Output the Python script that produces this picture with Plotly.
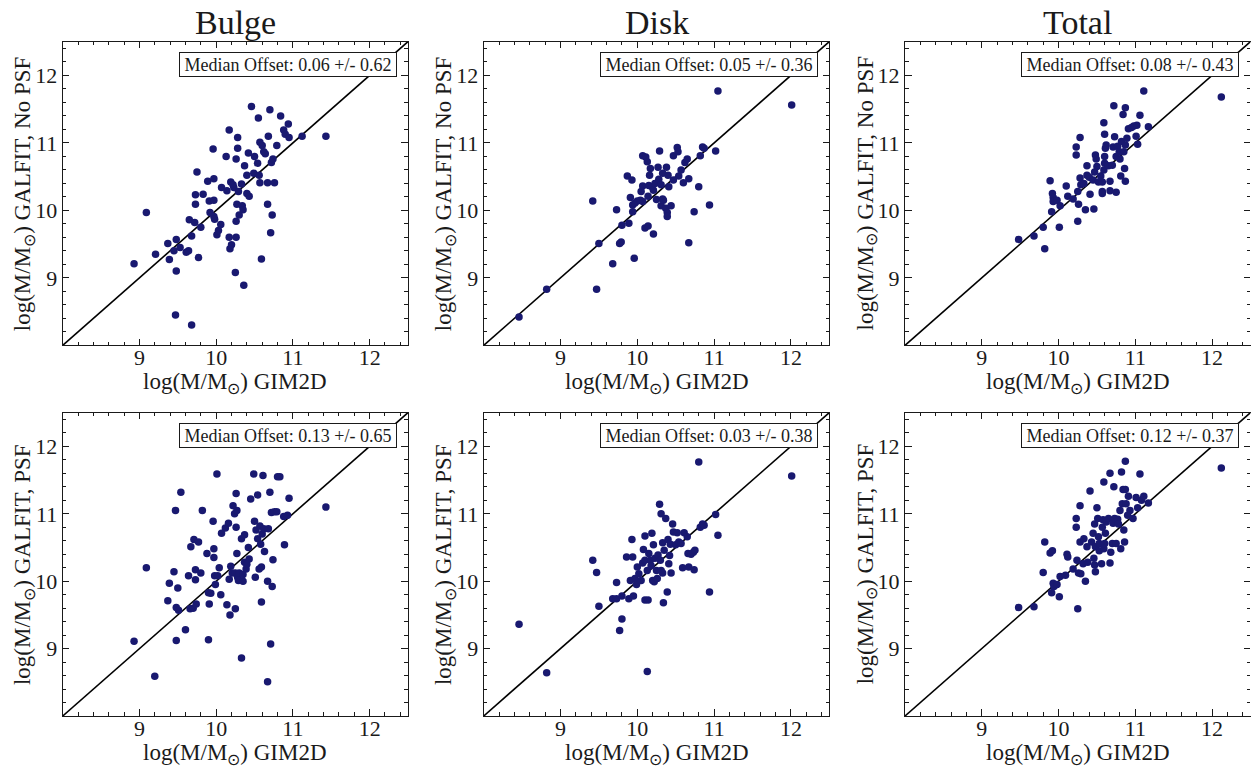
import plotly.graph_objects as go

# GIM2D vs GALFIT stellar-mass comparison for bulge, disk and total components.

AXIS_RANGE = [8.0, 12.5]
TICK_VALUES = [9, 10, 11, 12]
COLUMN_TITLES = ["Bulge", "Disk", "Total"]
ROW_YLABELS = ["log(M/M<sub>⊙</sub>) GALFIT, No PSF", "log(M/M<sub>⊙</sub>) GALFIT, PSF"]
XLABEL = "log(M/M<sub>⊙</sub>) GIM2D"

offset_median = [[0.06, 0.05, 0.08], [0.13, 0.03, 0.12]]
offset_spread = [[0.62, 0.36, 0.43], [0.65, 0.38, 0.37]]

# ---- Bulge, no PSF ----
bulge_nopsf_x = [8.93, 9.09, 9.21, 9.37, 9.39, 9.48, 9.45, 9.48, 9.47, 9.53, 9.61, 9.64, 9.68, 9.68,
                 9.65, 9.72, 9.73, 9.73, 9.75, 9.77, 9.80, 9.83, 9.89, 9.91, 9.92, 9.97, 9.97, 9.96,
                 9.97, 9.98, 10.01, 10.03, 10.06, 10.07, 10.13, 10.14, 10.17, 10.17, 10.18, 10.20,
                 10.19, 10.22, 10.23, 10.26, 10.25, 10.26, 10.26, 10.28, 10.28, 10.27, 10.29, 10.30,
                 10.33, 10.34, 10.35, 10.36, 10.37, 10.40, 10.40, 10.42, 10.43, 10.46, 10.49, 10.50,
                 10.55, 10.54, 10.56, 10.57, 10.57, 10.59, 10.60, 10.62, 10.64, 10.67, 10.67, 10.68,
                 10.70, 10.71, 10.72, 10.73, 10.74, 10.76, 10.79, 10.84, 10.88, 10.90, 10.94, 10.95,
                 11.12, 11.43]
bulge_nopsf_y = [9.21, 9.97, 9.35, 9.51, 9.27, 9.57, 9.40, 9.10, 8.45, 9.45, 9.38, 9.40, 9.62, 8.30,
                 9.86, 9.82, 10.09, 10.23, 10.57, 9.30, 9.75, 10.24, 10.43, 10.14, 9.97, 10.15, 10.47,
                 10.91, 9.91, 9.87, 9.64, 9.70, 9.79, 10.34, 10.80, 10.29, 11.19, 9.60, 9.43, 9.49,
                 10.42, 10.38, 10.34, 9.60, 9.08, 9.84, 10.76, 10.92, 11.08, 10.09, 10.28, 9.93,
                 10.39, 10.07, 10.01, 8.89, 10.66, 10.25, 10.52, 10.85, 10.21, 11.54, 10.55, 10.80,
                 11.37, 10.70, 10.52, 10.41, 11.01, 9.28, 10.96, 10.87, 10.84, 10.41, 10.09, 11.10,
                 11.49, 9.67, 10.71, 9.93, 10.76, 10.41, 10.96, 11.40, 11.19, 11.13, 11.28, 11.08,
                 11.10, 11.10]

# ---- Disk, no PSF ----
disk_nopsf_x = [8.46, 8.82, 9.42, 9.50, 9.47, 9.68, 9.73, 9.77, 9.79, 9.80, 9.87, 9.89, 9.91, 9.93,
                9.96, 9.94, 9.94, 9.97, 10.00, 10.04, 10.05, 10.07, 10.07, 10.07, 10.11, 10.10, 10.13,
                10.14, 10.15, 10.14, 10.16, 10.17, 10.19, 10.21, 10.21, 10.23, 10.25, 10.27, 10.28,
                10.29, 10.31, 10.31, 10.33, 10.33, 10.34, 10.37, 10.38, 10.39, 10.39, 10.40, 10.41,
                10.44, 10.47, 10.47, 10.52, 10.53, 10.54, 10.57, 10.60, 10.62, 10.65, 10.67, 10.67,
                10.74, 10.80, 10.82, 10.85, 10.87, 10.94, 11.02, 11.05, 12.01]
disk_nopsf_y = [8.42, 8.83, 10.14, 9.51, 8.83, 9.21, 10.01, 9.51, 9.53, 9.78, 10.51, 9.81, 10.19, 10.45,
                9.29, 10.08, 9.98, 10.11, 10.14, 10.15, 10.28, 10.13, 10.81, 10.36, 10.79, 9.74, 10.72,
                9.77, 10.37, 10.21, 10.52, 10.62, 10.35, 9.65, 10.30, 10.40, 10.16, 10.64, 10.46,
                10.88, 10.07, 10.38, 10.17, 10.55, 10.15, 10.03, 10.64, 9.97, 9.91, 10.52, 10.35,
                10.07, 10.81, 10.45, 10.93, 10.87, 10.51, 10.60, 10.41, 10.71, 10.76, 10.47, 9.52,
                9.98, 10.35, 10.81, 10.94, 10.92, 10.08, 10.88, 11.77, 11.56]

# ---- Total, no PSF ----
total_nopsf_x = [9.48, 9.68, 9.80, 9.82, 9.89, 9.91, 9.92, 9.93, 9.93, 9.98, 10.02, 10.01, 10.10, 10.12,
                 10.19, 10.23, 10.23, 10.25, 10.26, 10.25, 10.28, 10.28, 10.29, 10.33, 10.35, 10.37,
                 10.37, 10.41, 10.40, 10.45, 10.46, 10.47, 10.48, 10.49, 10.50, 10.52, 10.55, 10.57,
                 10.57, 10.57, 10.59, 10.59, 10.60, 10.60, 10.60, 10.61, 10.62, 10.65, 10.67, 10.67,
                 10.70, 10.71, 10.72, 10.73, 10.75, 10.75, 10.77, 10.79, 10.80, 10.81, 10.82, 10.84,
                 10.85, 10.86, 10.87, 10.87, 10.87, 10.89, 10.91, 10.95, 10.98, 11.01, 11.02, 11.03,
                 11.06, 11.11, 11.17, 12.12]
total_nopsf_y = [9.57, 9.62, 9.75, 9.43, 10.44, 9.98, 10.25, 10.19, 10.13, 10.15, 10.07, 9.75, 10.36,
                 10.21, 10.17, 10.82, 10.94, 10.28, 10.09, 9.84, 11.08, 10.48, 10.38, 10.40, 10.01,
                 10.66, 10.52, 10.24, 10.49, 10.45, 10.02, 10.57, 10.82, 10.76, 10.65, 10.42, 10.51,
                 10.28, 10.25, 10.42, 10.60, 11.30, 11.13, 10.70, 10.80, 10.92, 10.97, 10.66, 10.29,
                 10.43, 10.67, 10.94, 11.55, 11.09, 10.27, 10.80, 10.95, 10.87, 10.76, 10.51, 11.02,
                 11.42, 10.87, 10.62, 10.43, 10.97, 11.52, 11.07, 11.21, 11.23, 11.25, 11.10, 11.26,
                 10.98, 11.41, 11.77, 11.24, 11.68]

# ---- Bulge, PSF ----
bulge_psf_x = [8.93, 9.09, 9.20, 9.37, 9.39, 9.45, 9.47, 9.48, 9.48, 9.50, 9.51, 9.54, 9.60, 9.64, 9.66,
               9.67, 9.70, 9.71, 9.73, 9.73, 9.74, 9.77, 9.80, 9.82, 9.88, 9.90, 9.90, 9.91, 9.93,
               9.96, 9.97, 9.97, 9.98, 9.99, 10.01, 10.02, 10.04, 10.06, 10.07, 10.12, 10.14, 10.16,
               10.17, 10.18, 10.19, 10.21, 10.22, 10.24, 10.25, 10.26, 10.26, 10.27, 10.27, 10.25,
               10.28, 10.29, 10.30, 10.33, 10.33, 10.35, 10.35, 10.37, 10.37, 10.39, 10.40, 10.42,
               10.43, 10.45, 10.49, 10.50, 10.51, 10.52, 10.54, 10.54, 10.56, 10.57, 10.58, 10.59,
               10.59, 10.60, 10.61, 10.62, 10.63, 10.67, 10.67, 10.68, 10.70, 10.71, 10.72, 10.73,
               10.74, 10.76, 10.79, 10.80, 10.83, 10.88, 10.89, 10.93, 10.95, 11.43]
bulge_psf_y = [9.11, 10.20, 8.59, 9.71, 9.97, 10.14, 11.05, 9.61, 9.12, 9.90, 9.57, 11.32, 9.28, 10.08,
               9.59, 10.51, 9.60, 10.62, 10.17, 10.02, 9.66, 10.58, 10.12, 11.05, 10.41, 9.83, 9.13,
               9.66, 9.82, 10.89, 10.35, 10.48, 10.08, 9.95, 11.59, 10.08, 10.20, 9.80, 10.71, 10.79,
               9.65, 10.86, 10.03, 9.50, 10.22, 10.12, 11.12, 11.00, 9.59, 11.30, 10.80, 10.41,
               11.05, 10.12, 10.06, 10.01, 10.12, 8.86, 10.63, 10.00, 10.10, 10.69, 10.28, 10.18,
               10.25, 10.50, 10.33, 11.22, 11.59, 10.89, 10.06, 10.76, 11.28, 10.63, 10.18, 10.82,
               10.55, 9.69, 10.21, 10.70, 11.57, 10.78, 10.44, 10.00, 8.51, 10.78, 11.32, 9.07,
               11.02, 9.92, 10.32, 11.03, 11.03, 11.55, 11.55, 10.96, 10.54, 10.98, 11.23, 11.10]

# ---- Disk, PSF ----
disk_psf_x = [8.46, 8.82, 9.42, 9.47, 9.50, 9.68, 9.73, 9.73, 9.77, 9.80, 9.80, 9.86, 9.89, 9.91, 9.93,
              9.94, 9.95, 9.97, 9.99, 10.00, 10.02, 10.05, 10.07, 10.08, 10.10, 10.10, 10.10, 10.13,
              10.13, 10.14, 10.15, 10.17, 10.18, 10.19, 10.20, 10.21, 10.22, 10.23, 10.25, 10.26,
              10.27, 10.29, 10.30, 10.31, 10.31, 10.33, 10.33, 10.34, 10.35, 10.37, 10.39, 10.40,
              10.41, 10.42, 10.43, 10.44, 10.46, 10.47, 10.50, 10.52, 10.54, 10.57, 10.59, 10.61,
              10.65, 10.66, 10.67, 10.70, 10.73, 10.74, 10.75, 10.80, 10.82, 10.85, 10.87, 10.94,
              11.02, 11.05, 12.01]
disk_psf_y = [9.36, 8.64, 10.31, 10.13, 9.63, 9.74, 9.98, 9.74, 9.27, 9.44, 9.78, 10.36, 9.74, 10.01,
              10.62, 10.36, 9.78, 10.04, 9.95, 10.21, 10.11, 10.01, 10.27, 10.47, 10.31, 10.67, 9.72,
              10.16, 8.66, 9.72, 10.41, 10.31, 10.23, 10.71, 10.01, 10.54, 9.99, 10.34, 10.16, 10.04,
              10.39, 11.14, 10.31, 10.16, 11.00, 10.12, 10.57, 9.68, 10.46, 10.93, 9.84, 10.62,
              10.26, 10.38, 10.55, 10.12, 10.85, 10.73, 10.54, 10.72, 10.58, 10.56, 10.20, 10.72,
              10.66, 10.41, 10.21, 10.40, 10.43, 10.17, 10.46, 11.77, 10.80, 10.85, 10.83, 9.84,
              10.99, 10.68, 11.56]

# ---- Total, PSF ----
total_psf_x = [9.48, 9.68, 9.80, 9.82, 9.89, 9.92, 9.91, 9.93, 9.94, 9.98, 10.01, 10.02, 10.09, 10.11,
               10.12, 10.19, 10.23, 10.23, 10.24, 10.25, 10.26, 10.28, 10.28, 10.29, 10.32, 10.33,
               10.35, 10.37, 10.38, 10.41, 10.43, 10.45, 10.46, 10.47, 10.47, 10.48, 10.48, 10.50,
               10.51, 10.52, 10.53, 10.53, 10.56, 10.57, 10.58, 10.59, 10.59, 10.60, 10.61, 10.62,
               10.65, 10.67, 10.67, 10.68, 10.70, 10.71, 10.72, 10.73, 10.75, 10.77, 10.78, 10.80,
               10.81, 10.82, 10.83, 10.84, 10.85, 10.86, 10.87, 10.87, 10.88, 10.90, 10.91, 10.93,
               10.97, 11.01, 11.03, 11.06, 11.08, 11.11, 11.17, 12.12]
total_psf_y = [9.61, 9.62, 10.13, 10.58, 10.42, 10.45, 9.83, 9.97, 9.92, 9.95, 9.77, 10.07, 10.09, 10.40,
               10.36, 10.18, 10.93, 10.80, 10.31, 9.59, 10.12, 11.12, 10.58, 10.11, 10.26, 10.63,
               10.00, 10.51, 10.28, 11.34, 10.58, 10.71, 10.34, 10.85, 10.24, 10.51, 10.14, 11.09,
               10.93, 10.66, 10.45, 10.56, 10.26, 10.80, 10.91, 11.47, 10.48, 10.56, 10.71, 10.88,
               10.93, 11.60, 10.27, 10.43, 10.56, 10.86, 11.40, 10.93, 10.56, 10.92, 10.85, 11.05,
               10.48, 11.62, 11.15, 11.36, 10.76, 10.58, 11.78, 11.36, 11.15, 10.98, 11.26, 11.05,
               10.93, 11.24, 11.09, 11.59, 11.20, 11.26, 11.16, 11.68]

panel_data = [
    [(bulge_nopsf_x, bulge_nopsf_y), (disk_nopsf_x, disk_nopsf_y), (total_nopsf_x, total_nopsf_y)],
    [(bulge_psf_x, bulge_psf_y), (disk_psf_x, disk_psf_y), (total_psf_x, total_psf_y)],
]

W, H = 1251, 767
FONT = "Liberation Serif"
INK = "#1a1a1a"
POINT_COLOR = "#191970"

# Plot-area pixel boxes (left, right) per column and (top, bottom) per row
col_px = [(62.7, 408.0), (483.7, 829.3), (905.0, 1250.5)]
row_px = [(41.7, 345.3), (412.7, 716.0)]
TITLE_GAP = 38  # distance from axis line to axis-title centre, px

fig = go.Figure()
annotations = []

for r in range(2):
    for c in range(3):
        idx = r * 3 + c + 1
        xa = "x" if idx == 1 else f"x{idx}"
        ya = "y" if idx == 1 else f"y{idx}"
        xs, ys = panel_data[r][c]

        # one-to-one reference line spanning the axis range
        fig.add_trace(go.Scatter(
            x=AXIS_RANGE, y=AXIS_RANGE, mode="lines",
            line=dict(color="black", width=1.6),
            xaxis=xa, yaxis=ya, showlegend=False, hoverinfo="skip",
        ))
        fig.add_trace(go.Scatter(
            x=xs, y=ys, mode="markers",
            marker=dict(color=POINT_COLOR, size=7.5, line=dict(width=0)),
            xaxis=xa, yaxis=ya, showlegend=False,
        ))

        l, rr = col_px[c]
        t, b = row_px[r]
        axis_common = dict(
            range=AXIS_RANGE, tickvals=TICK_VALUES, ticks="inside", ticklen=6.5,
            tickwidth=1, tickcolor=INK, showline=True, linecolor=INK, linewidth=1.2,
            mirror="allticks", showgrid=False, zeroline=False,
            tickfont=dict(family=FONT, size=22, color=INK),
            minor=dict(dtick=0.2, tick0=8, ticks="inside", ticklen=3.5, tickcolor=INK, tickwidth=1),
        )
        fig.update_layout(**{
            ("xaxis" if idx == 1 else f"xaxis{idx}"): dict(
                axis_common, domain=[l / W, rr / W], anchor=ya, ticklabelstandoff=-8,
            ),
            ("yaxis" if idx == 1 else f"yaxis{idx}"): dict(
                axis_common, domain=[1 - b / H, 1 - t / H], anchor=xa,
            ),
        })

        # axis titles placed at a fixed distance from each frame
        annotations.append(dict(
            text=XLABEL, xref="paper", yref="paper",
            x=(l + rr) / 2 / W, y=1 - (b + TITLE_GAP) / H,
            xanchor="center", yanchor="middle", showarrow=False,
            font=dict(family=FONT, size=23, color=INK),
        ))
        annotations.append(dict(
            text=ROW_YLABELS[r], xref="paper", yref="paper",
            x=(l - TITLE_GAP) / W, y=1 - (t + b) / 2 / H, textangle=-90,
            xanchor="center", yanchor="middle", showarrow=False,
            font=dict(family=FONT, size=23, color=INK),
        ))

        annotations.append(dict(
            text=f"Median Offset: {offset_median[r][c]:.2f} +/- {offset_spread[r][c]:.2f}",
            xref=f"{xa} domain", yref=f"{ya} domain", x=0.968, y=0.966,
            xanchor="right", yanchor="top", showarrow=False,
            width=214, height=21, align="center", valign="middle",
            font=dict(family=FONT, size=18, color=INK),
            bgcolor="white", bordercolor=INK, borderwidth=1, borderpad=1,
        ))
        if r == 0:
            annotations.append(dict(
                text=COLUMN_TITLES[c], xref="paper", yref="paper",
                x=(l + rr) / 2 / W, y=1 - t / H - 1 / H,
                xanchor="center", yanchor="bottom", showarrow=False,
                font=dict(family=FONT, size=34, color=INK),
            ))

fig.update_layout(
    width=W, height=H, margin=dict(l=0, r=0, t=0, b=0),
    paper_bgcolor="white", plot_bgcolor="white",
    annotations=annotations,
)

fig.write_html("out.html")
